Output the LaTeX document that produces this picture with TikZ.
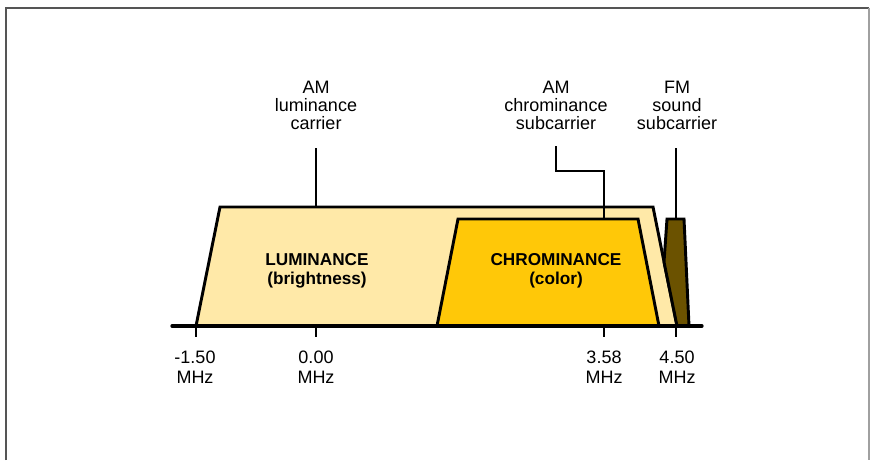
\documentclass[tikz,border=0pt]{standalone}
\usepackage{fontspec}
\setmainfont{Liberation Sans}
\definecolor{lumfill}{HTML}{FFE9A8}
\definecolor{chrfill}{HTML}{FFC808}
\definecolor{sndfill}{HTML}{6B5200}
\definecolor{framedark}{HTML}{555555}
\definecolor{framelight}{HTML}{A0A0A0}
\begin{document}
\begin{tikzpicture}[x=0.75pt,y=-0.75pt,
  band/.style={draw=black,line width=2.2pt,line join=miter},
  lead/.style={draw=black,line width=2pt},
  axisline/.style={draw=black,line width=2.5pt,line cap=round},
  tickline/.style={draw=black,line width=2pt},
  lbl/.style={align=center,font=\fontsize{13.5}{13.5}\selectfont,inner sep=0pt},
  bandlbl/.style={align=center,font=\fontsize{12.9}{14.3}\selectfont\bfseries,inner sep=0pt},
  ticklbl/.style={align=center,font=\fontsize{13.5}{15}\selectfont,inner sep=0pt}]
\useasboundingbox (0,0) rectangle (870,460);
\fill[white] (0,0) rectangle (870,460);
\draw[framedark,line width=1.5pt] (6,460) -- (6,8) -- (869,8);
\draw[framelight,line width=1.2pt] (869,8) -- (869,460);

% luminance band
\path[band,fill=lumfill] (196,326) -- (220,207) -- (653,207) -- (677,326) -- cycle;
% sound carrier
\path[band,fill=sndfill] (667,219) -- (684,219) -- (689,326) -- (677,326) -- (664,262) -- cycle;

% labels
\node[lbl] (lumlbl) at (316,105) {AM\\luminance\\carrier};
\node[lbl] (chrlbl) at (556,105) {AM\\chrominance\\subcarrier};
\node[lbl] (sndlbl) at (677,105) {FM\\sound\\subcarrier};

% leaders
\coordinate (lumtop) at (316,148);
\coordinate (lumhit) at (316,207);
\coordinate (chrtop) at (556,146);
\coordinate (chrbend1) at (556,171);
\coordinate (chrbend2) at (604,171);
\coordinate (chrhit) at (604,219);
\coordinate (sndtop) at (676,148);
\coordinate (sndhit) at (676,219);
\draw[lead] (lumtop) -- (lumhit);
\draw[lead] (chrtop) -- (chrbend1) -- (chrbend2) -- (chrhit);
\draw[lead] (sndtop) -- (sndhit);

% chrominance band
\path[band,fill=chrfill] (437,326) -- (458,219) -- (638,219) -- (659,326) -- cycle;

\node[bandlbl] (lumtxt) at (317,270.5) {LUMINANCE\\(brightness)};
\node[bandlbl] (chrtxt) at (556,271) {CHROMINANCE\\(color)};

% axis
\coordinate (axl) at (172,326);
\coordinate (axr) at (702,326);
\draw[axisline] (axl) -- (axr);
\foreach \x/\n in {196/a,316/b,604/c,676/d}{
  \coordinate (t\n) at (\x,326);
  \coordinate (tb\n) at (\x,337);
  \draw[tickline] (t\n) -- (tb\n);
}
\node[ticklbl] (l1) at (195,367) {-1.50\\MHz};
\node[ticklbl] (l2) at (316,367) {0.00\\MHz};
\node[ticklbl] (l3) at (604,367) {3.58\\MHz};
\node[ticklbl] (l4) at (677,367) {4.50\\MHz};
\end{tikzpicture}
\end{document}
